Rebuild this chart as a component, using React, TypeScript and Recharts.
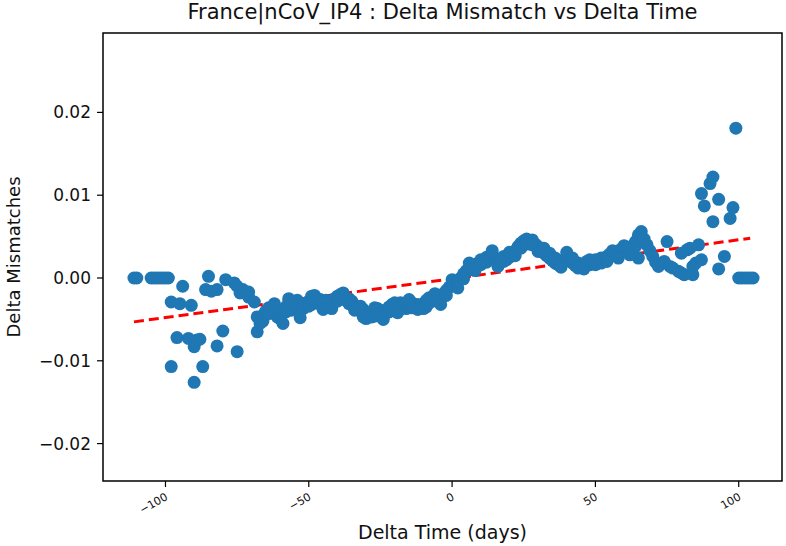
import React from 'react';
import { ScatterChart, Scatter, XAxis, YAxis, ReferenceLine, ReferenceArea } from 'recharts';

// Delta time (days) for each sample
const days: number[] = [
  -111, -110, -105, -104, -103, -102, -101, -100, -99,
  -98, -98, -96, -95, -94, -92, -91, -90, -90, -89, -88, -87,
  -85, -86, -84, -82, -82, -80, -79, -76, -75, -75, -74, -73, -71, -71, -69, -68, -68,
  -67, -66, -65, -64, -63, -62, -61, -60, -59, -58, -57, -56, -55, -54, -53, -52, -51,
  -50, -49, -48, -47, -46, -45, -44, -43, -42, -41, -40, -39, -38, -37, -36, -35, -34,
  -33, -32, -31, -30, -29, -28, -27, -26, -25, -24, -23, -22, -21, -20, -19, -18, -17,
  -16, -15, -14, -13, -12, -11, -10, -9, -8, -7, -6, -5, -4, -3, -2, -1, 0,
  1, 2, 3, 4, 5, 6, 7, 8, 9, 10, 11, 12, 13, 14, 15, 16, 17, 18, 19, 20,
  21, 22, 23, 24, 25, 26, 27, 28, 29, 30, 31, 32, 33, 34, 35, 36, 37, 38, 39, 40,
  41, 42, 43, 44, 45, 46, 47, 48, 49, 50, 51, 52, 53, 54, 55, 56, 57, 58, 59, 60,
  61, 62, 63, 64, 65, 66, 65, 67, 68, 69, 70, 71, 72,
  74, 75, 76, 77, 79, 80, 80, 81, 82, 83, 84, 84, 85, 86, 87, 87, 88, 90, 91, 91,
  93, 93, 95, 97, 98, 99,
  100, 101, 102, 103, 104, 105,
];

// Delta mismatches, same order as days
const mismatches: number[] = [
  0, 0, 0, 0, 0, 0, 0, 0, 0,
  -0.0029, -0.0107, -0.0072, -0.0031, -0.001, -0.0073, -0.0033, -0.0126, -0.0083, -0.0075, -0.0074, -0.0107,
  0.0002, -0.0014, -0.0016, -0.0014, -0.0082, -0.0064, -0.0002, -0.0006, -0.001, -0.0089, -0.0018, -0.0014, -0.0017, -0.0023, -0.0029, -0.0047, -0.0065,
  -0.0055, -0.0045, -0.004, -0.0036, -0.0042, -0.0038, -0.0047, -0.0043, -0.004, -0.0035, -0.0038, -0.0032, -0.0036, -0.0033, -0.0039, -0.0031, -0.0034,
  -0.0028, -0.0032, -0.0027, -0.003, -0.0026, -0.0029, -0.0033, -0.0028, -0.0031, -0.0025, -0.0022, -0.002, -0.0024, -0.0027, -0.0031, -0.0028, -0.0033,
  -0.0036, -0.004, -0.0038, -0.0043, -0.0045, -0.0041, -0.0046, -0.0043, -0.0039, -0.0044, -0.004, -0.0035, -0.0032, -0.0036, -0.0033, -0.003, -0.0034,
  -0.0037, -0.0033, -0.003, -0.0035, -0.0038, -0.0034, -0.0031, -0.0027, -0.0024, -0.0028, -0.0025, -0.0022, -0.0026, -0.0019, -0.0015, -0.0011, -0.0008,
  -0.0004, -0.0012, 0.0, 0.0005, 0.0009, 0.0012, 0.001, 0.0015, 0.0018, 0.0022, 0.002, 0.0025, 0.0023, 0.0027, 0.0024, 0.002, 0.0023, 0.0026, 0.0022, 0.0025,
  0.0028, 0.0033, 0.0038, 0.0042, 0.0045, 0.0047, 0.0044, 0.0046, 0.0041, 0.0038, 0.0034, 0.003, 0.0027, 0.0024, 0.0021, 0.0018, 0.0016, 0.0019, 0.0022, 0.0025,
  0.0021, 0.0018, 0.0015, 0.0018, 0.0014, 0.0017, 0.002, 0.0016, 0.0019, 0.0022, 0.0019, 0.0024, 0.0021, 0.0026, 0.0029, 0.0027, 0.0032, 0.003, 0.0035, 0.0033,
  0.0036, 0.0034, 0.0039, 0.0044, 0.0052, 0.0056, 0.0024, 0.0047, 0.004, 0.0033, 0.0026, 0.0019, 0.0014,
  0.002, 0.0044, 0.0014, 0.0012, 0.0008, 0.003, 0.0006, 0.0004, 0.0034, 0.0036, 0.0004, 0.0014, 0.0018, 0.004, 0.0022, 0.0102, 0.0087, 0.0114, 0.0122, 0.0068,
  0.0095, 0.0011, 0.0026, 0.0072, 0.0085, 0.0181,
  0, 0, 0, 0, 0, 0,
];

// second sample on the same days, widens the band
const extraDays: number[] = [
  -66, -64, -62, -60, -58, -56, -54, -52, -50, -48, -46, -44, -42, -40, -38, -36, -34,
  -32, -30, -28, -26, -24, -22, -20, -18, -16, -14, -12, -10, -8, -6, -4, -2, 0,
  2, 4, 6, 8, 10, 12, 14, 16, 18, 20, 22, 24, 26, 28, 30, 32,
  34, 36, 38, 40, 42, 44, 46, 48, 50, 52, 54, 56, 58, 60, 62, 64,
  -59, -57, -53, -49, -45, -31, -27, -19, -15, -9,
];
const extraMismatches: number[] = [
  -0.0052, -0.0043, -0.0031, -0.0049, -0.0041, -0.0039, -0.0027, -0.0037, -0.0034, -0.0021, -0.0032, -0.0027, -0.0037, -0.0028, -0.0018, -0.0025, -0.0039,
  -0.0034, -0.0049, -0.0047, -0.0037, -0.005, -0.0041, -0.003, -0.0036, -0.0031, -0.0036, -0.0032, -0.0037, -0.003, -0.0019, -0.0032, -0.0021, -0.0002,
  -0.0004, -0.0001, 0.0018, 0.0009, 0.0016, 0.0019, 0.0033, 0.0014, 0.002, 0.0031, 0.0027, 0.0036, 0.0041, 0.004, 0.0032, 0.0036,
  0.003, 0.0024, 0.0013, 0.0031, 0.0024, 0.0012, 0.0011, 0.0022, 0.0016, 0.0018, 0.002, 0.0033, 0.0024, 0.0039, 0.0028, 0.0038,
  -0.0055, -0.0025, -0.0048, -0.0022, -0.0038, -0.0047, -0.0036, -0.0042, -0.0026, -0.0035,
];

// least squares trend line end points
const trendDays: number[] = [-111, 104];
const trendValues: number[] = [-0.0053, 0.0048];

const xTicks: number[] = [-100, -50, 0, 50, 100];
const yTicks: number[] = [-0.02, -0.01, 0, 0.01, 0.02];

const X_DOMAIN: [number, number] = [-121.8, 115.1];
const Y_DOMAIN: [number, number] = [-0.02452, 0.02959];

const points = [
  ...days.map((d, i) => ({ x: d, y: mismatches[i] })),
  ...extraDays.map((d, i) => ({ x: d, y: extraMismatches[i] })),
];

const minus = (s: string) => s.replace('-', '\u2212');

const XTick = (props: any) => {
  const { x, y, payload } = props;
  return (
    <g transform={`translate(${x - 1},${y + 3})`}>
      <text
        textAnchor="end"
        dominantBaseline="hanging"
        transform="rotate(-30)"
        fontSize={11}
        fill="#111"
        fontFamily="DejaVu Sans"
      >
        {minus(String(payload.value))}
      </text>
    </g>
  );
};

const Dot = (props: any) => {
  const { cx, cy } = props;
  if (cx == null || cy == null) return null;
  return <circle cx={cx} cy={cy} r={6.5} fill="#1f77b4" />;
};

const App: React.FC = () => {
  return (
    <div style={{ position: 'absolute', left: 0, top: 0, width: 786, height: 546, background: '#fff', fontFamily: 'DejaVu Sans' }}>
      <div
        style={{
          position: 'absolute',
          left: 103,
          width: 679,
          top: 0,
          textAlign: 'center',
          fontSize: 21,
          color: '#111',
        }}
      >
        France|nCoV_IP4 : Delta Mismatch vs Delta Time
      </div>
      <ScatterChart width={786} height={546} margin={{ top: 33, right: 4, bottom: 0, left: 0 }}>
        <XAxis
          type="number"
          dataKey="x"
          domain={X_DOMAIN}
          ticks={xTicks}
          allowDataOverflow
          height={65}
          axisLine={false}
          tickLine={{ stroke: '#000', strokeWidth: 1.2 }}
          tickSize={6}
          tick={<XTick />}
          label={{ value: 'Delta Time (days)', position: 'insideBottom', offset: 7, fontSize: 19, fill: '#111' }}
        />
        <YAxis
          type="number"
          dataKey="y"
          domain={Y_DOMAIN}
          ticks={yTicks}
          allowDataOverflow
          width={103}
          axisLine={false}
          tickLine={{ stroke: '#000', strokeWidth: 1.2 }}
          tickSize={6}
          tickMargin={6}
          tickFormatter={(v: number) => minus(v.toFixed(2))}
          tick={{ fontSize: 17, fill: '#111' }}
          label={{
            value: 'Delta Mismatches',
            angle: -90,
            position: 'insideLeft',
            offset: 14,
            fontSize: 18,
            fill: '#111',
            style: { textAnchor: 'middle' },
          }}
        />
        <ReferenceArea
          x1={X_DOMAIN[0]}
          x2={X_DOMAIN[1]}
          y1={Y_DOMAIN[0]}
          y2={Y_DOMAIN[1]}
          fill="none"
          fillOpacity={0}
          stroke="#000"
          strokeWidth={1.5}
          ifOverflow="extendDomain"
        />
        <Scatter data={points} shape={<Dot />} isAnimationActive={false} />
        <ReferenceLine
          segment={[
            { x: trendDays[0], y: trendValues[0] },
            { x: trendDays[1], y: trendValues[1] },
          ]}
          stroke="#ff0000"
          strokeWidth={3}
          strokeDasharray="10 5"
        />
      </ScatterChart>
    </div>
  );
};

export default App;
